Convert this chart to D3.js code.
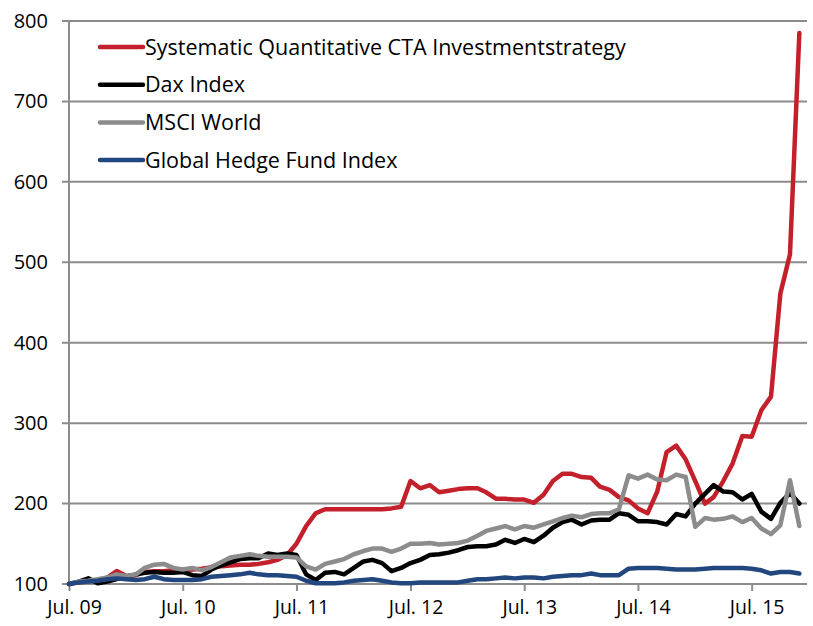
<!DOCTYPE html>
<html>
<head>
<meta charset="utf-8">
<style>
  body { margin: 0; background: #fff; }
  svg text { font-family: "Open Sans", Lato, sans-serif; fill: #000; }
</style>
</head>
<body>
<div id="chart"></div>

<script src="https://d3js.org/d3.v7.min.js"></script>
<script>
// monthly points, Jul 09 .. Dec 15
var months = d3.timeMonth.range(new Date(2009, 6, 1), new Date(2016, 0, 1));

var seriesNames = ["Systematic Quantitative CTA Investmentstrategy", "Dax Index", "MSCI World", "Global Hedge Fund Index"];
var seriesColors = ["#C4202B", "#000000", "#8C8C8C", "#22477E"];

var cta = [100, 102, 104, 105, 108, 116, 110, 111, 115, 116, 116, 117,
           117, 118, 119, 121, 122, 123, 124, 124, 125, 127, 130, 136,
           150, 172, 188, 193, 193, 193, 193, 193, 193, 193, 194, 196,
           228, 219, 223, 214, 216, 218, 219, 219, 214, 206, 206, 205,
           205, 201, 211, 228, 237, 237, 233, 232, 221, 217, 208, 204,
           194, 188, 215, 264, 272, 255, 228, 200, 208, 228, 250, 284,
           283, 316, 333, 461, 510, 785];

var dax = [100, 103, 107, 101, 103, 106, 109, 112, 114, 115, 114, 114,
           115, 111, 110, 118, 123, 127, 131, 132, 132, 138, 136, 138,
           136, 112, 105, 114, 115, 112, 120, 128, 130, 126, 116, 120,
           126, 130, 136, 137, 139, 142, 146, 147, 147, 149, 155, 151,
           156, 152, 160, 170, 177, 180, 174, 179, 180, 180, 188, 186,
           178, 178, 177, 174, 187, 184, 200, 212, 223, 215, 214, 205,
           212, 190, 181, 201, 213, 200];

var msci = [100, 103, 104, 106, 108, 112, 110, 112, 120, 124, 125, 120,
            118, 120, 117, 121, 127, 133, 135, 137, 135, 134, 134, 134,
            133, 122, 118, 125, 128, 131, 137, 141, 144, 144, 140, 144,
            150, 150, 151, 149, 150, 151, 154, 160, 166, 169, 172, 168,
            172, 170, 174, 178, 182, 185, 183, 187, 188, 188, 193, 235,
            231, 236, 230, 229, 236, 233, 171, 182, 180, 181, 184, 177,
            182, 169, 162, 173, 229, 172];

var hedge = [100, 102, 103, 104, 106, 107, 106, 105, 106, 109, 106, 105,
             105, 105, 106, 109, 110, 111, 112, 114, 112, 111, 111, 110,
             109, 104, 101, 101, 101, 102, 104, 105, 106, 104, 102, 101,
             101, 102, 102, 102, 102, 102, 104, 106, 106, 107, 108, 107,
             108, 108, 107, 109, 110, 111, 111, 113, 111, 111, 111, 119,
             120, 120, 120, 119, 118, 118, 118, 119, 120, 120, 120, 120,
             119, 117, 113, 115, 115, 113];

var yTicks = [100, 200, 300, 400, 500, 600, 700, 800];
var xTicks = [2009, 2010, 2011, 2012, 2013, 2014, 2015].map(function(yr) { return new Date(yr, 6, 1); });

var width = 813, height = 626;
var plotLeft = 69, plotRight = 807, plotTop = 21, plotBottom = 584;

var svg = d3.select("#chart")
    .append("svg")
    .attr("width", width)
    .attr("height", height);

var x = d3.scaleTime()
    .domain([new Date(2009, 6, 1), new Date(2016, 0, 1)])
    .range([plotLeft, 809]);

var y = d3.scaleLinear()
    .domain([100, 800])
    .range([plotBottom, plotTop]);

// gridlines
svg.append("g")
    .selectAll("line")
    .data(yTicks)
    .enter()
    .append("line")
    .attr("x1", plotLeft - 7)
    .attr("x2", plotRight)
    .attr("y1", function(d) { return y(d); })
    .attr("y2", function(d) { return y(d); })
    .attr("stroke", "#8C8C8C")
    .attr("stroke-width", 2);

// y axis
var yAxis = svg.append("g")
    .attr("transform", "translate(" + plotLeft + ",0)")
    .call(d3.axisLeft(y).tickValues(yTicks).tickSize(0).tickPadding(21));
yAxis.select(".domain").remove();
yAxis.selectAll("text").style("font-size", "20px");

svg.append("line")
    .attr("x1", plotLeft).attr("x2", plotLeft)
    .attr("y1", plotTop).attr("y2", plotBottom)
    .attr("stroke", "#8C8C8C")
    .attr("stroke-width", 2);

// x axis
var xAxis = svg.append("g")
    .attr("transform", "translate(0," + plotBottom + ")")
    .call(d3.axisBottom(x).tickValues(xTicks).tickFormat(d3.timeFormat("%b. %y")).tickSize(7).tickPadding(9));
xAxis.select(".domain").remove();
xAxis.selectAll("line").attr("stroke", "#8C8C8C").attr("stroke-width", 2);
xAxis.selectAll("text").style("font-size", "19.5px").attr("dx", "5");

// series lines
var line = d3.line()
    .x(function(d, i) { return x(months[i]); })
    .y(function(d) { return y(d); });

var allSeries = [cta, dax, msci, hedge];

svg.append("g")
    .selectAll("path")
    .data(allSeries)
    .enter()
    .append("path")
    .attr("d", line)
    .attr("fill", "none")
    .attr("stroke", function(d, i) { return seriesColors[i]; })
    .attr("stroke-width", 4.5)
    .attr("stroke-linejoin", "round")
    .attr("stroke-linecap", "round");

// legend
var legend = svg.append("g")
    .selectAll("g")
    .data(seriesNames)
    .enter()
    .append("g")
    .attr("transform", function(d, i) { return "translate(100," + (47 + i * 37.7) + ")"; });

legend.append("line")
    .attr("x1", 0).attr("x2", 43)
    .attr("stroke", function(d, i) { return seriesColors[i]; })
    .attr("stroke-width", 4.5)
    .attr("stroke-linecap", "round");

legend.append("text")
    .attr("x", 45)
    .attr("dy", "0.35em")
    .style("font-size", "21.5px")
    .text(function(d) { return d; });
</script>
</body>
</html>
